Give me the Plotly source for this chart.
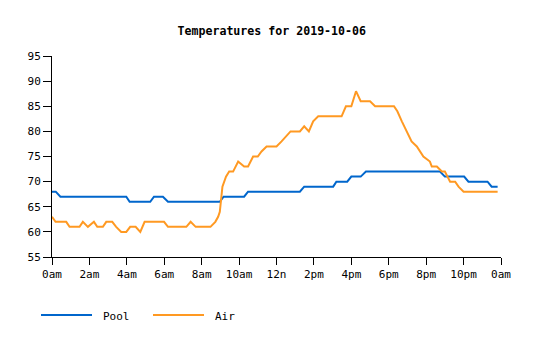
import plotly.graph_objects as go

# Hours of the day (decimal) and temperatures (°F)
pool_hours = [0.0, 0.2, 0.45, 3.97, 4.15, 5.25, 5.45, 5.93, 6.2, 8.97, 9.17, 10.27, 10.48,
              13.25, 13.48, 15.03, 15.2, 15.78, 16.0, 16.5, 16.78, 20.74, 21.0, 22.03, 22.26,
              23.28, 23.5, 23.82]
pool_temps = [68, 68, 67, 67, 66, 66, 67, 67, 66, 66, 67, 67, 68,
              68, 69, 69, 70, 70, 71, 71, 72, 72, 71, 71, 70,
              70, 69, 69]

air_hours = [0.0, 0.19, 0.76, 0.94, 1.47, 1.65, 1.92, 2.24, 2.42, 2.72, 2.9, 3.22, 3.43, 3.7,
             3.97, 4.18, 4.47, 4.72, 4.95, 5.99, 6.2, 7.18, 7.41, 7.68, 8.47, 8.73, 8.88,
             8.97, 9.11, 9.2, 9.3, 9.47, 9.68, 9.95, 10.27, 10.48, 10.75, 11.0, 11.2, 11.47,
             12.0, 12.27, 12.5, 12.75, 13.25, 13.48, 13.73, 13.96, 14.23, 15.48, 15.71, 16.0,
             16.25, 16.5, 17.0, 17.27, 18.28, 18.46, 18.7, 18.96, 19.22, 19.5, 19.85, 20.2,
             20.3, 20.57, 20.84, 21.0, 21.28, 21.55, 21.73, 22.0, 23.82]
air_temps = [63, 62, 62, 61, 61, 62, 61, 62, 61, 61, 62, 62, 61, 60,
             60, 61, 61, 60, 62, 62, 61, 61, 62, 61, 61, 62, 63,
             64, 69, 70, 71, 72, 72, 74, 73, 73, 75, 75, 76, 77,
             77, 78, 79, 80, 80, 81, 80, 82, 83, 83, 85, 85,
             88, 86, 86, 85, 85, 84, 82, 80, 78, 77, 75, 74,
             73, 73, 72, 72, 70, 70, 69, 68, 68]

series_names = ["Pool", "Air"]
series_colors = ["#0066cc", "#ff9922"]

tick_hours = [0, 2, 4, 6, 8, 10, 12, 14, 16, 18, 20, 22, 24]
tick_labels = ["0am", "2am", "4am", "6am", "8am", "10am", "12n",
               "2pm", "4pm", "6pm", "8pm", "10pm", "0am"]
y_ticks = [55, 60, 65, 70, 75, 80, 85, 90, 95]

FONT = "DejaVu Sans Mono, Liberation Mono, monospace"
W, H = 535, 340
ML, MR, MT, MB = 52, 34, 56, 83
PW, PH = W - ML - MR, H - MT - MB


def px_x(p):
    return (p - ML) / PW


def px_y(p):
    return (H - MB - p) / PH


fig = go.Figure()
for name, color, xs, ys in zip(series_names, series_colors,
                               [pool_hours, air_hours], [pool_temps, air_temps]):
    fig.add_trace(go.Scatter(x=xs, y=ys, mode="lines", name=name,
                             line=dict(color=color, width=2), showlegend=False))

# legend drawn below the plot (longer swatches, as in the reference)
legend_starts = [41, 153]
shapes, annotations = [], []
for name, color, x0 in zip(series_names, series_colors, legend_starts):
    shapes.append(dict(type="line", xref="paper", yref="paper",
                       x0=px_x(x0), x1=px_x(x0 + 51), y0=px_y(315), y1=px_y(315),
                       line=dict(color=color, width=2)))
    annotations.append(dict(text=name, xref="paper", yref="paper", x=px_x(x0 + 60),
                            y=px_y(316), xanchor="left", yanchor="middle", showarrow=False,
                            font=dict(family=FONT, size=11, color="black")))

fig.update_layout(
    width=W, height=H,
    margin=dict(l=ML, r=MR, t=MT, b=MB),
    paper_bgcolor="white", plot_bgcolor="white",
    font=dict(family=FONT, size=11, color="black"),
    title=dict(text="<b>Temperatures for 2019-10-06</b>", x=0.508, xanchor="center",
               y=1 - 31 / H, yanchor="middle", font=dict(family=FONT, size=11.6)),
    showlegend=False,
    shapes=shapes,
    annotations=annotations,
)
fig.update_xaxes(range=[0, 24], tickvals=tick_hours, ticktext=tick_labels,
                 showgrid=False, zeroline=False, showline=True, linecolor="black",
                 linewidth=1, ticks="outside", ticklen=7, tickcolor="black")
fig.update_yaxes(range=[55, 95], tickvals=y_ticks,
                 showgrid=False, zeroline=False, showline=True, linecolor="black",
                 linewidth=1, ticks="outside", ticklen=8, tickcolor="black")

fig.write_html("out.html")
